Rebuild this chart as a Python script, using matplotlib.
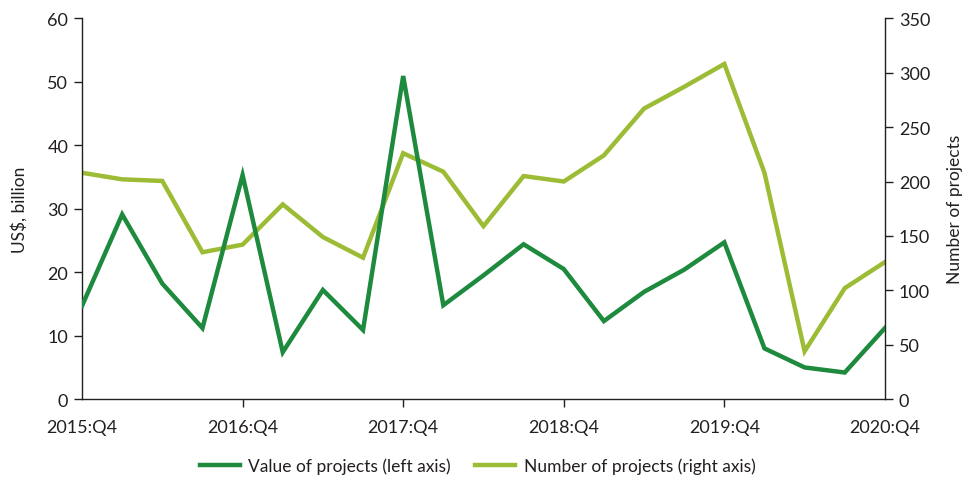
import matplotlib
matplotlib.use("Agg")
import matplotlib.pyplot as plt

quarters = ["2015:Q4", "2016:Q1", "2016:Q2", "2016:Q3", "2016:Q4", "2017:Q1", "2017:Q2",
            "2017:Q3", "2017:Q4", "2018:Q1", "2018:Q2", "2018:Q3", "2018:Q4", "2019:Q1",
            "2019:Q2", "2019:Q3", "2019:Q4", "2020:Q1", "2020:Q2", "2020:Q3", "2020:Q4"]
value_bn = [14.7, 29.1, 18.2, 11.2, 35.3, 7.4, 17.2, 10.9, 50.9, 14.8, 19.5, 24.4, 20.5,
            12.3, 16.9, 20.4, 24.7, 8.0, 5.0, 4.2, 11.2]
num_projects = [208, 202, 200.5, 135, 142, 179, 149, 130, 226, 209, 159, 205, 200,
                224, 267, 287, 308, 208, 44, 102, 126]
tick_labels = ["2015:Q4", "2016:Q4", "2017:Q4", "2018:Q4", "2019:Q4", "2020:Q4"]

plt.rcParams['font.family'] = ['Lato', 'DejaVu Sans']
txt = '#231f20'
dark = '#1e8a3e'
light = '#9dbc35'

fig = plt.figure(figsize=(9.65, 4.81), dpi=100)
ax = fig.add_axes([0.085, 0.168, 0.832, 0.792])
ax2 = ax.twinx()

x = list(range(len(quarters)))
l1, = ax.plot(x, value_bn, color=dark, lw=3.2, solid_joinstyle='miter', zorder=3,
              label="Value of projects (left axis)")
l2, = ax2.plot(x, num_projects, color=light, lw=3.2, solid_joinstyle='miter', zorder=2,
               label="Number of projects (right axis)")
ax.set_zorder(ax2.get_zorder() + 1)
ax.patch.set_visible(False)

ax.set_xlim(0, len(quarters) - 1)
ax.set_ylim(0, 60)
ax2.set_ylim(0, 350)
ax.set_yticks(range(0, 61, 10))
ax2.set_yticks(range(0, 351, 50))
tick_pos = [quarters.index(t) for t in tick_labels]
ax.set_xticks(tick_pos)
ax.set_xticklabels(tick_labels)
for i, t in enumerate(ax.xaxis.get_major_ticks()):
    if i in (0, len(tick_pos) - 1):
        t.tick1line.set_visible(False)

for a in (ax, ax2):
    for s in a.spines.values():
        s.set_color(txt)
        s.set_linewidth(1.0)
    a.spines['top'].set_visible(False)
    a.tick_params(colors=txt, labelsize=13, length=6, width=1.0, pad=4)
ax.spines['right'].set_visible(False)
ax2.spines['left'].set_visible(False)
ax2.spines['bottom'].set_visible(False)
ax.tick_params(axis='x', pad=8)

ax.set_ylabel("US$, billion", fontsize=12.5, color=txt, labelpad=14)
ax2.set_ylabel("Number of projects", fontsize=12.5, color=txt, labelpad=12)

fig.legend(handles=[l1, l2], loc='center', bbox_to_anchor=(0.495, 0.03), ncol=2,
           frameon=False, fontsize=12.5, handlelength=2.3, handletextpad=0.5,
           columnspacing=1.4, labelcolor=txt)

fig.savefig("out.png", dpi=100)
